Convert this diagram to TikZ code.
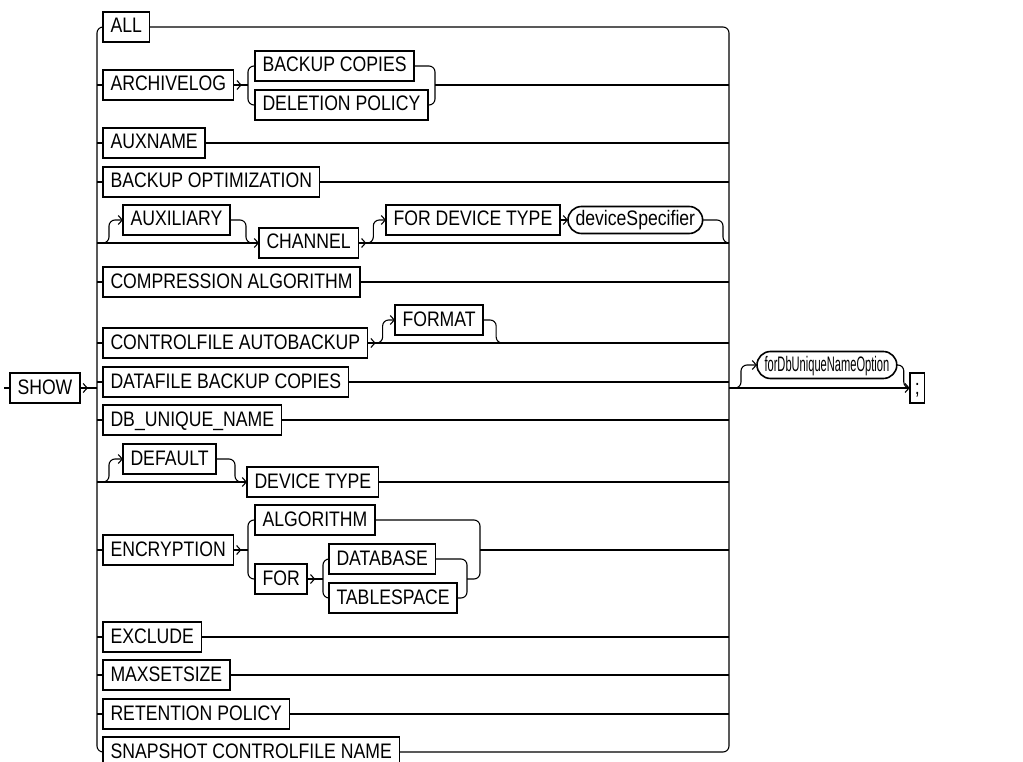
\documentclass[tikz,border=0pt]{standalone}
\usepackage{fontspec}
\setmainfont{Liberation Sans}[FakeStretch=0.84]
\usetikzlibrary{arrows.meta,decorations.markings,calc}
\begin{document}
\begin{tikzpicture}[x=1pt,y=-1pt]
\tikzset{
 kw/.style={draw, line width=1.6pt, rectangle, minimum height=30pt, inner xsep=7.5pt, inner ysep=0pt,
   text height=15pt, text depth=3pt, outer sep=0pt, font=\fontsize{21}{23}\selectfont, anchor=west},
 nt/.style={kw, rounded corners=13.5pt, minimum height=27pt},
 ln/.style={line width=1.1pt, rounded corners=6pt},
 tip/.style={-{Straight Barb[length=4pt,width=9pt]}},
 chev/.style={postaction={decorate}, decoration={markings, mark=at position 8pt with {\arrow{Straight Barb[length=4pt,width=9pt]}}}},
}
\useasboundingbox (0,0) rectangle (1023,762);
\coordinate (L) at (97,0);
\coordinate (R) at (729,0);
% nodes
\node[kw] (show) at (10,388) {SHOW};
\node[kw] (all) at (103,27) {ALL};
\node[kw] (arch) at (103,85) {ARCHIVELOG};
\node[kw] (bc) at (255,66) {BACKUP COPIES};
\node[kw] (dp) at (255,105) {DELETION POLICY};
\node[kw] (auxn) at (103,143) {AUXNAME};
\node[kw] (bo) at (103,182) {BACKUP OPTIMIZATION};
\node[kw] (auxi) at (123,220) {AUXILIARY};
\node[kw] (chan) at (259,243) {CHANNEL};
\node[kw] (fdt) at (386,220) {FOR DEVICE TYPE};
\node[nt] (dev) at (568,220) {deviceSpecifier};
\node[kw] (comp) at (103,282) {COMPRESSION ALGORITHM};
\node[kw] (cfa) at (103,343) {CONTROLFILE AUTOBACKUP};
\node[kw] (fmt) at (395,320) {FORMAT};
\node[kw] (dbc) at (103,382) {DATAFILE BACKUP COPIES};
\node[kw] (dbu) at (103,420) {DB\_UNIQUE\_NAME};
\node[kw] (dflt) at (123,459) {DEFAULT};
\node[kw] (devt) at (247,482) {DEVICE TYPE};
\node[kw] (enc) at (103,550) {ENCRYPTION};
\node[kw] (alg) at (255,520) {ALGORITHM};
\node[kw] (for) at (255,579) {FOR};
\node[kw] (db) at (329,559) {DATABASE};
\node[kw] (ts) at (329,598) {TABLESPACE};
\node[kw] (exc) at (103,637) {EXCLUDE};
\node[kw] (max) at (103,675) {MAXSETSIZE};
\node[kw] (ret) at (103,714) {RETENTION POLICY};
\node[kw] (snap) at (103,752) {SNAPSHOT CONTROLFILE NAME};
\node[nt] (fdb) at (757,365) {\scalebox{0.63}[1]{forDbUniqueNameOption}};
\node[kw, inner xsep=5pt] (semi) at ($(fdb.east)+(13,23)$) {;};
% coordinates
\coordinate (start) at (4,388);
\coordinate (ab) at (248,85);
\coordinate (aj) at (435,85);
\coordinate (eb) at (248,550);
\coordinate (ej) at (480,550);
\coordinate (fb) at (323,579);
\coordinate (fj) at (467,579);
% entry and exit
\draw[ln] (start) -- (show.west);
\draw[ln,chev] (show.east) -- (L |- show.east);
\draw[ln,tip] (R |- show.east) -- (semi.west);
\draw[ln,tip] (R |- show.east) -- ++(12,0) |- (fdb.west);
\draw[ln] (fdb.east) -- ++(7,0) |- (semi.west);
% rails
\draw[ln] (all.west) -- (L |- all.west) -- (L |- snap.west) -- (snap.west);
\draw[ln] (all.east) -- (R |- all.east) -- (R |- snap.east) -- (snap.east);
% simple rows
\foreach \n in {arch,auxn,bo,comp,cfa,dbc,dbu,enc,exc,max,ret}
  \draw[ln] (L |- \n.west) -- (\n.west);
\foreach \n in {auxn,bo,comp,dbc,dbu,devt,exc,max,ret}
  \draw[ln] (\n.east) -- (R |- \n.east);
% ARCHIVELOG
\draw[ln,chev] (arch.east) -- (ab);
\draw[ln] (bc.west) -- (bc.west -| ab) -- (dp.west -| ab) -- (dp.west);
\draw[ln] (bc.east) -- (bc.east -| aj) -- (dp.east -| aj) -- (dp.east);
\draw[ln] (aj) -- (R |- aj);
% AUXILIARY CHANNEL
\draw[ln,tip] (L |- chan.west) -- (chan.west);
\draw[ln,tip] (L |- chan.west) -- ++(12,0) |- (auxi.west);
\draw[ln] (auxi.east) -| ($(chan.west)+(-13,0)$) -- ++(6,0);
\draw[ln,chev] (chan.east) -- (R |- chan.east);
\draw[ln,tip] ($(chan.east)+(8,0)$) -- ++(7,0) |- (fdt.west);
\draw[ln,tip] (fdt.east) -- (dev.west);
\draw[ln] (dev.east) -| ($(R |- chan.east)+(-6,0)$) -- (R |- chan.east);
% CONTROLFILE AUTOBACKUP
\draw[ln,chev] (cfa.east) -- (R |- cfa.east);
\draw[ln,tip] ($(cfa.east)+(8,0)$) -- ++(7,0) |- (fmt.west);
\draw[ln] (fmt.east) -| ($(fmt.east)+(13,23)$) -- ++(6,0);
% DEFAULT DEVICE TYPE
\draw[ln,tip] (L |- devt.west) -- (devt.west);
\draw[ln,tip] (L |- devt.west) -- ++(12,0) |- (dflt.west);
\draw[ln] (dflt.east) -| ($(devt.west)+(-12,0)$) -- ++(6,0);
% ENCRYPTION
\draw[ln,chev] (enc.east) -- (eb);
\draw[ln] (alg.west) -- (alg.west -| eb) -- (for.west -| eb) -- (for.west);
\draw[ln] (alg.east) -- (alg.east -| ej) -- (fj -| ej) -- (fj);
\draw[ln] (ej) -- (R |- ej);
\draw[ln,chev] (for.east) -- (fb);
\draw[ln] (db.west) -- (db.west -| fb) -- (ts.west -| fb) -- (ts.west);
\draw[ln] (db.east) -- (db.east -| fj) -- (ts.east -| fj) -- (ts.east);
\end{tikzpicture}
\end{document}
